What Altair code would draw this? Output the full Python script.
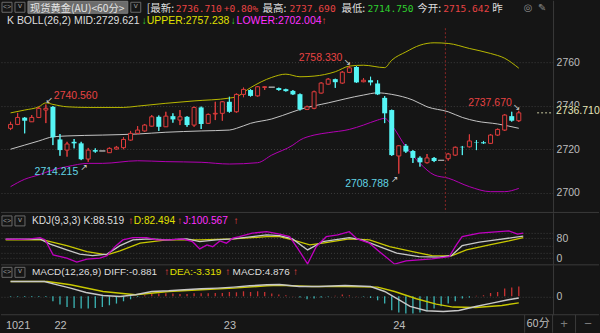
import altair as alt
import pandas as pd

# ---------------- values ----------------
opens = [2729.6, 2731.4, 2734.5, 2732.6, 2734.6, 2738.0, 2739.5, 2724.5, 2719.6, 2723.4,
         2722.7, 2715.5, 2719.6, 2719.2, 2718.4, 2720.1, 2720.7, 2724.2, 2727.3, 2728.4,
         2730.6, 2734.9, 2730.3, 2735.2, 2733.4, 2734.9, 2731.1, 2739.2, 2731.9, 2736.2,
         2736.5, 2741.8, 2737.2, 2745.2, 2747.2, 2744.5, 2748.4, 2748.5, 2748.1, 2747.6,
         2746.8, 2745.3, 2738.3, 2738.8, 2745.8, 2749.9, 2752.2, 2750.4, 2755.3, 2757.8,
         2751.0, 2751.7, 2750.2, 2743.6, 2738.0, 2716.9, 2721.6, 2719.2, 2716.1, 2713.8,
         2716.0, 2714.9, 2715.642, 2717.3, 2721.1, 2721.1, 2723.2, 2723.2, 2722.7, 2726.5,
         2728.8, 2735.2, 2733.1]
highs = [2732.6, 2736.7, 2734.8, 2735.7, 2739.5, 2740.56, 2739.8, 2727.0, 2723.4, 2724.7,
         2723.4, 2720.6, 2720.4, 2719.2, 2720.8, 2721.5, 2725.5, 2728.4, 2730.6, 2731.6,
         2735.7, 2735.5, 2737.2, 2736.5, 2738.0, 2735.2, 2739.6, 2739.6, 2736.4, 2741.8,
         2742.1, 2744.1, 2745.6, 2748.3, 2747.6, 2749.0, 2748.8, 2748.5, 2748.3, 2747.8,
         2747.2, 2745.6, 2740.0, 2746.9, 2750.8, 2752.7, 2752.4, 2755.9, 2758.33, 2758.2,
         2752.7, 2753.3, 2751.7, 2744.4, 2738.2, 2721.9, 2722.4, 2719.6, 2716.7, 2717.8,
         2716.4, 2714.9, 2718.3, 2721.2, 2721.5, 2726.8, 2724.2, 2723.8, 2727.0, 2729.5,
         2736.1, 2737.2, 2737.67]
lows = [2728.8, 2731.1, 2727.3, 2732.5, 2734.3, 2732.0, 2721.9, 2717.0, 2716.6, 2720.4,
        2715.0, 2714.215, 2718.4, 2719.2, 2718.3, 2719.9, 2720.0, 2724.0, 2727.2, 2728.1,
        2730.4, 2728.4, 2730.2, 2732.2, 2731.1, 2730.3, 2730.3, 2729.3, 2731.6, 2733.4,
        2733.1, 2736.8, 2736.8, 2743.9, 2744.2, 2744.2, 2747.2, 2748.5, 2746.9, 2746.5,
        2744.9, 2737.8, 2738.0, 2738.4, 2745.6, 2749.7, 2748.2, 2750.1, 2755.0, 2750.5,
        2750.8, 2749.4, 2744.9, 2732.0, 2716.9, 2708.788, 2718.3, 2713.7, 2712.0, 2713.4,
        2714.1, 2714.9, 2714.75, 2716.9, 2717.3, 2720.8, 2719.6, 2722.4, 2722.4, 2726.1,
        2728.4, 2732.7, 2732.5]
closes = [2731.4, 2734.6, 2733.1, 2734.6, 2738.8, 2738.8, 2725.5, 2719.6, 2722.4, 2722.7,
          2715.4, 2719.6, 2718.9, 2719.2, 2720.4, 2720.9, 2724.5, 2727.3, 2728.8, 2731.1,
          2734.9, 2730.3, 2735.2, 2733.7, 2734.9, 2731.1, 2739.2, 2731.6, 2736.0, 2736.5,
          2741.8, 2737.2, 2745.2, 2747.5, 2744.5, 2748.7, 2748.7, 2748.5, 2747.2, 2746.7,
          2745.2, 2738.3, 2739.5, 2746.4, 2750.4, 2752.2, 2750.8, 2755.4, 2757.4, 2750.7,
          2751.7, 2750.7, 2745.2, 2736.5, 2717.3, 2721.6, 2718.9, 2716.0, 2714.0, 2716.0,
          2714.6, 2714.9, 2717.8, 2720.9, 2720.9, 2723.8, 2723.0, 2722.7, 2726.5, 2729.1,
          2735.7, 2733.1, 2736.71]

upper_i = [0, 2, 4, 5, 6, 8, 11, 16, 18, 22, 26, 31, 32, 34, 37, 39, 41, 43, 46, 48, 50,
           53, 54, 56, 58, 60, 62, 65, 68, 70, 72]
upper_v = [2736.7, 2738.0, 2739.5, 2741.3, 2740.6, 2739.5, 2739.2, 2739.2, 2739.8, 2741.1,
           2742.2, 2743.5, 2744.1, 2748.3, 2753.0, 2754.5, 2753.3, 2753.6, 2755.6, 2758.2,
           2758.6, 2757.5, 2760.9, 2764.7, 2767.8, 2768.9, 2768.6, 2766.3, 2764.0, 2761.8,
           2757.238]
mid_i = [0, 2, 4, 6, 8, 13, 18, 22, 27, 31, 32, 34, 37, 40, 41, 45, 50, 52, 54, 57, 59,
         62, 64, 66, 69, 72]
mid_v = [2720.0, 2721.9, 2723.8, 2725.7, 2726.1, 2726.5, 2727.0, 2727.8, 2728.4, 2728.8,
         2729.6, 2731.9, 2733.9, 2737.2, 2738.3, 2741.3, 2744.9, 2745.9, 2745.2, 2742.6,
         2739.5, 2737.2, 2734.6, 2732.9, 2731.6, 2729.621]
lower_i = [0, 2, 4, 6, 8, 11, 13, 18, 22, 27, 31, 35, 37, 40, 41, 43, 45, 48, 50, 52, 53,
           54, 56, 58, 60, 62, 65, 68, 70, 72]
lower_v = [2702.8, 2706.2, 2708.2, 2710.5, 2712.0, 2713.5, 2713.5, 2714.7, 2714.3, 2714.0,
           2713.2, 2713.8, 2717.3, 2721.9, 2724.2, 2726.5, 2727.6, 2729.1, 2731.1, 2733.4,
           2734.2, 2731.0, 2721.1, 2713.5, 2708.2, 2706.7, 2702.8, 2700.5, 2700.5, 2702.004]

k_i = [0, 4.8, 6.2, 8.5, 10.3, 12.1, 14.1, 15.9, 17.7, 20, 22.4, 25.2, 27, 29.3, 31.6, 34.3,
       36.3, 38.1, 39.9, 42, 44.1, 47.8, 49.6, 52, 54.4, 57.5, 60.3, 62, 63.5, 65.9, 68.2,
       70.5, 72]
k_v = [76, 76, 56, 33, 16, 10, 16, 50, 73, 77, 73, 77, 66, 73, 77, 86, 93, 90, 77, 33, 66,
       82, 73, 46, 20, 6, 4, 10, 50, 64, 73, 82, 88.519]
d_i = [0, 5.2, 8.5, 11.3, 14.1, 15.9, 18.7, 22.4, 27, 31.6, 36.3, 38.1, 39.9, 42.3, 44.1,
       47.8, 50.6, 53.4, 56.6, 59.3, 62, 64.1, 67.3, 70, 72]
d_v = [73, 73, 50, 26, 13, 29, 60, 73, 73, 77, 86, 86, 73, 53, 60, 77, 73, 46, 26, 10, 9,
       33, 53, 69, 82.494]
j_i = [0, 2, 3.4, 4.8, 5.5, 6.6, 8.5, 9.9, 11.3, 13.1, 14.1, 15.2, 16.3, 17.7, 19.6, 21,
       22.8, 24.6, 26, 27, 28, 28.8, 29.8, 30.7, 31.6, 32.5, 34.3, 36.3, 38.1, 39.5, 40.6,
       42, 43.2, 44.6, 46.2, 47.8, 48.9, 50.6, 52, 54.1, 55.7, 57.5, 59.3, 61.7, 62.7, 63.5,
       65.9, 67.7, 70, 71.2, 72]
j_v = [76, 75, 77, 82, 73, 13, 0, -16, -4, 0, 10, 46, 73, 82, 82, 73, 73, 77, 66, 37, 53,
       46, 69, 60, 80, 86, 100, 106, 96, 86, 40, -23, 46, 86, 93, 106, 77, 60, 26, -24, -11,
       -7, -3, 6, 53, 86, 100, 104, 109, 96, 100.567]

diff_i = [0, 4.8, 6.2, 8.5, 10.7, 13.1, 15.5, 17.7, 20, 22.4, 24.6, 27, 29.3, 31.6, 33.9,
          36.3, 38.1, 40.9, 43.7, 47.4, 51, 53, 54.8, 56.6, 58.9, 61.3, 63.5, 65.9, 68.2,
          70.5, 72]
diff_v = [7.4, 7.4, 6.1, 4.1, 1.9, 0.4, -0.1, 0.75, 2.4, 2.75, 3.25, 3.75, 4.1, 4.6, 5.25,
          5.75, 5.9, 4.9, 4.9, 5.4, 4.9, 2.4, -1.25, -5.1, -7.25, -7.6, -7.1, -5.1, -3.4,
          -1.75, -0.881]
dea_i = [0, 5.2, 8.5, 13.1, 17.7, 22.4, 27, 31.6, 36.3, 38.1, 42.7, 47.4, 52, 54.4, 57.5,
         60.3, 62.7, 65.9, 69.6, 72]
dea_v = [7.4, 7.4, 5.75, 2.4, 0.75, 2.4, 3.25, 4.1, 5.25, 5.5, 4.9, 4.9, 4.6, 2.4, -1.25,
         -3.9, -5.4, -5.6, -4.6, -3.319]
macd_bar = [-0.3, -0.3, -0.3, -0.3, -0.3, -0.3, -2.5, -4.15, -5.35, -5.85, -6.15, -6.15,
            -5.85, -5.35, -4.5, -3.65, -2.5, -1.5, -0.35, 0.5, 1.35, 1.35, 1.5, 1.35, 1.15,
            1.15, 1.5, 1.5, 1.5, 1.65, 1.65, 2.15, 2.0, 2.5, 2.15, 2.5, 2.15, 1.35, 0.85,
            0.5, 0.15, -0.65, -1.5, -1.15, -0.65, -0.25, 0.25, 0.85, 0.5, 0.15, -0.25,
            -0.85, -2.0, -3.65, -7.0, -8.15, -8.65, -8.65, -8.15, -7.5, -6.15, -5.0, -3.65,
            -2.5, -1.15, -0.65, 0.25, 0.5, 1.65, 2.15, 3.85, 4.35, 4.876]

ann_i = [5, 11, 48, 55, 72]
ann_v = [2740.560, 2714.215, 2758.330, 2708.788, 2737.670]
ann_kind = ["ur", "ll", "ul", "ll", "ul"]

last_price = 2736.710
day_break = 61.6
price_ticks = [2700, 2720, 2740, 2760]
kdj_ticks = [0, 20, 50, 80, 100]
kdj_shown = [0, 80]
day_ticks = [1, 7, 31, 55]
day_labels = ["1021", "22", "23", "24"]

# ---------------- styles ----------------
BG = "#151515"
RED = "#e03c3c"
CYAN = "#55f5f5"
GRAY = "#a8a8a8"
UPB = "#b8b800"
MIDC = "#c4c4c4"
LOWB = "#b400b4"
GRID = "#3e3e3e"
SEP = "#3a3a3a"
AXT = "#bdbdbd"
TXT = "#dedede"
RED_T = "#e84343"
GREEN = "#2fd02f"
YEL = "#e0e000"
MAG = "#ff30ff"
ANN_C = "#62d4e4"
SANS = "Liberation Sans"
CJK = "Noto Sans CJK SC"
MONO = "DejaVu Sans Mono"
ARW = "DejaVu Sans"

W = 554
H_MAIN, H_KDJ, H_MACD = 213, 52, 50
XS = alt.Scale(domain=[-0.79, 76.15], nice=False, zero=False)
PS = alt.Scale(domain=[2690.73, 2788.44], nice=False, zero=False)
KS = alt.Scale(domain=[-26.8, 181.2], nice=False, zero=False)
MS = alt.Scale(domain=[-9.25, 15.75], nice=False, zero=False)
ONE = pd.DataFrame({"_": [0]})

day_expr = " : ".join(f"datum.value == {t} ? '{l}'" for t, l in zip(day_ticks, day_labels)) + " : ''"
DAY_AX = alt.Axis(values=day_ticks, labelExpr=day_expr, ticks=False, domain=False, grid=False,
                  labelColor=AXT, labelFont=SANS, labelFontSize=11, labelPadding=5,
                  labelFlush=False, minExtent=18, maxExtent=18, title=None)


def X(field="i", axis=None):
    if axis is None:
        return alt.X(f"{field}:Q", scale=XS, axis=None)
    return alt.X(f"{field}:Q", scale=XS, axis=axis)


def right_axis(values, fmt="d", label_expr=None):
    kw = dict(orient="right", values=values, format=fmt, grid=True, gridColor=GRID,
              gridDash=[1, 2], domainColor=SEP, ticks=False, labelColor=AXT,
              labelFont=SANS, labelFontSize=10.5, labelPadding=3, labelAlign="left",
              minExtent=46, maxExtent=46, title=None)
    if label_expr:
        kw["labelExpr"] = label_expr
    return alt.Axis(**kw)


P_AX = right_axis(price_ticks)
K_AX = right_axis(kdj_ticks, label_expr=" || ".join(f"datum.value == {v}" for v in kdj_shown)
                  + " ? datum.label : ''")
M_AX = right_axis([0])


def txt(s, x, y, color, size=10.5, font=SANS, align="left"):
    return alt.Chart(ONE).mark_text(text=s, align=align, baseline="middle", font=font,
                                    fontSize=size, color=color).encode(
        x=alt.value(x), y=alt.value(y))


def arrow(s, x, y, color):
    return txt(s, x, y, color, 10, SANS, "center")


def box(x0, y0, x1, y1, stroke="#666666", fill=BG):
    return alt.Chart(ONE).mark_rect(stroke=stroke, fill=fill, strokeWidth=1).encode(
        x=alt.value(x0), x2=alt.value(x1), y=alt.value(y0), y2=alt.value(y1))


def hline(y, x0=1, x1=600, color=SEP):
    return alt.Chart(ONE).mark_rule(color=color, strokeWidth=1).encode(
        x=alt.value(x0), x2=alt.value(x1), y=alt.value(y))


def vline(x, y0, y1, color=SEP):
    return alt.Chart(ONE).mark_rule(color=color, strokeWidth=1).encode(
        x=alt.value(x), y=alt.value(y0), y2=alt.value(y1))


def icons(y):
    return [box(2, y - 5, 12, y + 5, "#6a6a6a"), txt("<>", 7, y, "#9a9a9a", 7, SANS, "center"),
            box(15, y - 5, 25, y + 5, "#6a6a6a"), txt("v", 20, y - 1, "#9a9a9a", 8, SANS, "center")]


def line(xs, vs, color, yscale, yaxis, width=1.0, interp="linear", xaxis=None):
    df = pd.DataFrame({"i": xs, "v": vs})
    return alt.Chart(df).mark_line(color=color, strokeWidth=width, interpolate=interp).encode(
        x=X(axis=xaxis), y=alt.Y("v:Q", scale=yscale, axis=yaxis))


# ---------------- main (candles + BOLL) ----------------
cd = pd.DataFrame({"i": list(range(len(opens))), "o": opens, "h": highs, "l": lows, "c": closes})
cd["kind"] = ["up" if c > o else ("down" if c < o else "flat") for o, c in zip(opens, closes)]

wicks = alt.Chart(cd).mark_rule(strokeWidth=1).encode(
    x=X(), y=alt.Y("l:Q", scale=PS, axis=P_AX), y2="h:Q",
    color=alt.Color("kind:N", scale=alt.Scale(domain=["up", "down", "flat"],
                                              range=[RED, CYAN, GRAY]), legend=None))
body_up = alt.Chart(cd).transform_filter("datum.kind == 'up'").mark_bar(
    width=4, fill=BG, stroke=RED, strokeWidth=1).encode(
    x=X(), y=alt.Y("o:Q", scale=PS, axis=P_AX), y2="c:Q")
body_dn = alt.Chart(cd).transform_filter("datum.kind == 'down'").mark_bar(
    width=5, color=CYAN).encode(x=X(), y=alt.Y("o:Q", scale=PS, axis=P_AX), y2="c:Q")
body_fl = alt.Chart(cd).transform_filter("datum.kind == 'flat'").mark_bar(
    width=6, fill=GRAY, stroke=GRAY, strokeWidth=1).encode(
    x=X(), y=alt.Y("o:Q", scale=PS, axis=P_AX), y2="c:Q")

brk = alt.Chart(pd.DataFrame({"i": [day_break]})).mark_rule(
    color="#8a2626", strokeDash=[2, 2], strokeWidth=1).encode(
    x=X(), y=alt.value(28), y2=alt.value(H_MAIN))

ad = pd.DataFrame({"i": ann_i, "p": ann_v, "kind": ann_kind,
                   "label": [f"{v:.3f}" for v in ann_v]})
ann_layers = []
for kind, align, dx, dy, arw, adx, ady, col in [
        ("ur", "left", 8, -8, "\u2199", 3.5, -4, RED_T),
        ("ll", "right", -10, 10, "\u2197", -4, 5, ANN_C),
        ("ul", "right", -7, -8, "\u2198", -2, -4, RED_T)]:
    base = alt.Chart(ad).transform_filter(f"datum.kind == '{kind}'")
    ann_layers.append(base.mark_text(align=align, baseline="middle", dx=dx, dy=dy, font=SANS,
                                     fontSize=10.5, color=col).encode(
        x=X(), y=alt.Y("p:Q", scale=PS, axis=P_AX), text="label:N"))
    ann_layers.append(base.mark_text(text=arw, align="center", baseline="middle", dx=adx,
                                     dy=ady, font=ARW, fontSize=9, color="#cfcfcf").encode(
        x=X(), y=alt.Y("p:Q", scale=PS, axis=P_AX)))

lp = pd.DataFrame({"p": [last_price], "label": [f"{last_price:.3f}"]})
lp_box = alt.Chart(lp).transform_calculate(top="datum.p + 3.1", bot="datum.p - 2.4").mark_rect(
    fill=BG).encode(x=alt.value(556), x2=alt.value(600),
                    y=alt.Y("top:Q", scale=PS, axis=P_AX), y2="bot:Q")
lp_line = alt.Chart(lp).mark_rule(color="#c8c8a0", strokeDash=[2, 2]).encode(
    x=alt.value(538), x2=alt.value(553), y=alt.Y("p:Q", scale=PS, axis=P_AX))
lp_text = alt.Chart(lp).mark_text(align="left", baseline="middle", dy=-1.5, font=SANS,
                                  fontSize=10.5, color="#e6e6b8").encode(
    x=alt.value(557), y=alt.Y("p:Q", scale=PS, axis=P_AX), text="label:N")

R1 = 8.5
header = icons(7) + [
    box(28, 1, 128, 13, "#808080", "#6c6c6c"),
    txt("现货黄金(AU)<60分>", 30, R1, "#e4e4e4", 10.3, CJK),
    box(131, 2, 141, 12, "#6a6a6a"), txt("v", 136, 6, "#9a9a9a", 8, SANS, "center"),
    txt("[最新:", 147, R1, TXT, 10.5, CJK),
    txt("2736.710", 176, R1, RED_T, 9.6, MONO),
    txt("+0.80%", 224, R1, RED_T, 9.6, MONO),
    txt("最高:", 263, R1, TXT, 10.5, CJK),
    txt("2737.690", 290, R1, RED_T, 9.6, MONO),
    txt("最低:", 342, R1, TXT, 10.5, CJK),
    txt("2714.750", 368, R1, GREEN, 9.6, MONO),
    txt("今开:", 418, R1, TXT, 10.5, CJK),
    txt("2715.642", 444, R1, RED_T, 9.6, MONO),
    txt("昨", 493, R1, TXT, 10.5, CJK),
    txt("\u25ce", 529, 7.5, "#8a8a8a", 10, ARW, "center"),
    txt("\u270e", 543, 7.5, "#8a8a8a", 10, ARW, "center"),
    txt("K BOLL(26,2) MID:2729.621", 7, 21, TXT),
    arrow("\u2193", 144.5, 21, GREEN),
    txt("UPPER:2757.238", 147, 21, YEL),
    arrow("\u2193", 233.5, 21, GREEN),
    txt("LOWER:2702.004", 237, 21, MAG),
    arrow("\u2191", 324.5, 21, RED_T),
]

main = alt.layer(
    wicks,
    line(upper_i, upper_v, UPB, PS, P_AX, 1.0, "monotone"),
    line(mid_i, mid_v, MIDC, PS, P_AX, 1.0, "monotone"),
    line(lower_i, lower_v, LOWB, PS, P_AX, 1.0, "monotone"),
    wicks, body_up, body_dn, body_fl, brk, *ann_layers,
    lp_line, lp_box, lp_text, *header,
    hline(H_MAIN - 0.5),
).properties(width=W, height=H_MAIN)

# ---------------- KDJ ----------------
kdj = alt.layer(
    line(d_i, d_v, "#c8c800", KS, K_AX, 1.3),
    line(k_i, k_v, "#c8c8c8", KS, K_AX, 1.3),
    line(j_i, j_v, "#c000c0", KS, K_AX, 1.3),
    *icons(8),
    txt("KDJ(9,3,3) K:88.519", 32, 8, TXT, 10.2),
    arrow("\u2191", 131, 8, RED_T),
    txt("D:82.494", 134, 8, YEL, 10.2),
    arrow("\u2191", 180, 8, RED_T),
    txt("J:100.567", 183.5, 8, MAG, 10.2),
    arrow("\u2191", 236.5, 8, RED_T),
    hline(H_KDJ),
).properties(width=W, height=H_KDJ)

# ---------------- MACD ----------------
md = pd.DataFrame({"i": list(range(len(macd_bar))), "m": macd_bar, "z": 0.0})
bars = alt.Chart(md).mark_bar(width=1.3).encode(
    x=X(axis=DAY_AX),
    y=alt.Y("m:Q", scale=MS, axis=M_AX), y2="z:Q",
    color=alt.condition("datum.m > 0", alt.value("#c83232"), alt.value("#3cb6b6")))

macd = alt.layer(
    bars,
    line(dea_i, dea_v, "#c8c800", MS, M_AX, 1.4, xaxis=DAY_AX),
    line(diff_i, diff_v, "#c8c8c8", MS, M_AX, 1.4, xaxis=DAY_AX),
    *icons(7.5),
    txt("MACD(12,26,9) DIFF:-0.881", 32, 7.5, TXT, 10),
    arrow("\u2191", 167, 7.5, RED_T),
    txt("DEA:-3.319", 170, 7.5, YEL, 10),
    arrow("\u2191", 228, 7.5, RED_T),
    txt("MACD:4.876", 233, 7.5, TXT, 10),
    arrow("\u2191", 296, 7.5, RED_T),
    hline(H_MACD),
    vline(525.5, H_MACD, H_MACD + 18),
    vline(553.5, H_MACD, H_MACD + 18),
    vline(576.5, H_MACD, H_MACD + 18),
    txt("60分", 539, H_MACD + 9, AXT, 11, CJK, "center"),
    txt("+", 565, H_MACD + 9, "#7a7a7a", 13, SANS, "center"),
    txt("\u2212", 589, H_MACD + 9, "#7a7a7a", 13, SANS, "center"),
).properties(width=W, height=H_MACD)

chart = alt.vconcat(main, kdj, macd, spacing=0, bounds="flush").properties(
    padding=0, background=BG).configure_view(strokeOpacity=0)

chart.save("out.html", embed_options={"renderer": "svg", "actions": False})
